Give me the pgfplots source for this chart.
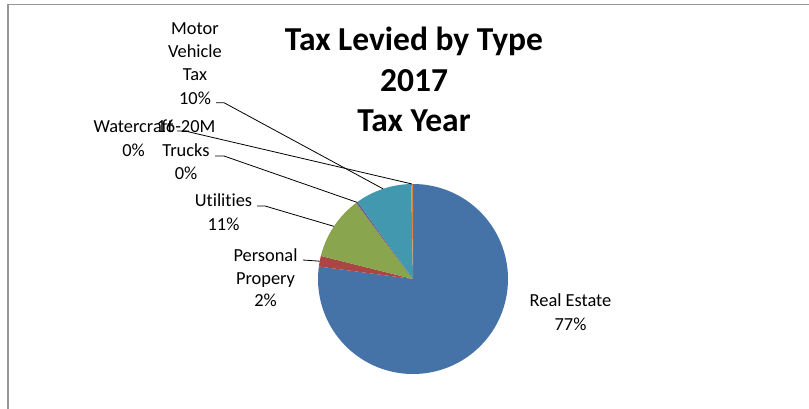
\documentclass[border=0pt]{standalone}
\usepackage{pgfplots}
\pgfplotsset{compat=1.18}
\usepackage{pgfplotstable}
\usetikzlibrary{calc}
\usepackage{fontspec}
\setmainfont{Carlito}[Ligatures=NoCommon]

\definecolor{slice0}{HTML}{4572A7}
\definecolor{slice1}{HTML}{AA4643}
\definecolor{slice2}{HTML}{89A54E}
\definecolor{slice3}{HTML}{71588F}
\definecolor{slice4}{HTML}{4198AF}
\definecolor{slice5}{HTML}{DB843D}
\definecolor{frame}{HTML}{969696}

% share of tax levied, percent (clockwise from 12 o'clock)
\pgfplotstableread{
name          value
RealEstate    77.1
Personal      1.8
Utilities     10.9
Trucks        0.3
MotorVehicle  9.6
Watercraft    0.3
}\taxdata

\begin{document}
\begin{tikzpicture}
\fontsize{18.4bp}{23.3bp}\selectfont

% start / end / middle angle of each slice
\xdef\cum{90}
\foreach \i in {0,...,5}{
    \pgfplotstablegetelem{\i}{value}\of\taxdata
    \pgfmathsetmacro\sweep{3.6*\pgfplotsretval}
    \pgfmathsetmacro\endang{\cum-\sweep}
    \pgfmathsetmacro\midang{\cum-\sweep/2}
    \expandafter\xdef\csname sa\i\endcsname{\cum}
    \expandafter\xdef\csname ea\i\endcsname{\endang}
    \expandafter\xdef\csname ma\i\endcsname{\midang}
    \xdef\cum{\endang}
}

\begin{axis}[
    at={(0,0)}, anchor=south west,
    scale only axis,
    width=809bp, height=409bp,
    xmin=0, xmax=809,
    ymin=0, ymax=409,
    y dir=reverse,
    hide axis,
    clip=false,
]

% frame
\draw[frame, line width=1.3bp] (axis cs:8,409) -- (axis cs:8,4.5) -- (axis cs:809,4.5);

% slices
\pgfplotsinvokeforeach{0,...,5}{
    \fill[slice#1] (axis cs:413,279) -- ++(\csname sa#1\endcsname:95bp)
        arc[start angle=\csname sa#1\endcsname, end angle=\csname ea#1\endcsname, radius=95bp] -- cycle;
}

% leader lines
\draw[line width=0.8bp] (axis cs:216,102.7) -- (axis cs:224,102.7) -- ($(axis cs:413,279)+(\csname ma4\endcsname:95bp)$);
\draw[line width=0.8bp] (axis cs:177,131) -- (axis cs:185,131) -- ($(axis cs:413,279)+(\csname ma5\endcsname:95bp)$);
\draw[line width=0.8bp] (axis cs:215,156) -- (axis cs:224,156) -- ($(axis cs:413,279)+(\csname ma3\endcsname:95bp)$);
\draw[line width=0.8bp] (axis cs:257,206) -- (axis cs:265,206) -- ($(axis cs:413,279)+(\csname ma2\endcsname:95bp)$);
\draw[line width=0.8bp] (axis cs:303,260) -- ($(axis cs:413,279)+(\csname ma1\endcsname:95bp)$);

% labels
\tikzset{lbl/.style={anchor=base, inner sep=0pt}}
\node[lbl] at (axis cs:195,34.3) {Motor};
\node[lbl] at (axis cs:195,57.7) {Vehicle};
\node[lbl] at (axis cs:195,81) {Tax};
\node[lbl] at (axis cs:195,104.3) {10\%};

\node[lbl] at (axis cs:133.5,132.5) {Watercraft};
\node[lbl] at (axis cs:133.5,156) {0\%};

\node[lbl] at (axis cs:186,132.5) {16-20M};
\node[lbl] at (axis cs:186,156) {Trucks};
\node[lbl] at (axis cs:186,179.5) {0\%};

\node[lbl] at (axis cs:223.5,206.7) {Utilities};
\node[lbl] at (axis cs:223.5,230) {11\%};

\node[lbl] at (axis cs:265.5,261) {Personal};
\node[lbl] at (axis cs:265.5,284) {Propery};
\node[lbl] at (axis cs:265.5,306.7) {2\%};

\node[lbl] at (axis cs:570.5,306.7) {Real Estate};
\node[lbl] at (axis cs:570.5,330) {77\%};

% title
\node[lbl, font=\fontsize{33.5bp}{40bp}\selectfont\bfseries] at (axis cs:414,50.7) {Tax Levied by Type};
\node[lbl, font=\fontsize{33.5bp}{40bp}\selectfont\bfseries] at (axis cs:414,91.7) {2017};
\node[lbl, font=\fontsize{33.5bp}{40bp}\selectfont\bfseries] at (axis cs:414,131.7) {Tax Year};
\end{axis}
\pgfresetboundingbox
\path[use as bounding box] (0,0) rectangle (809bp,409bp);
\end{tikzpicture}
\end{document}
